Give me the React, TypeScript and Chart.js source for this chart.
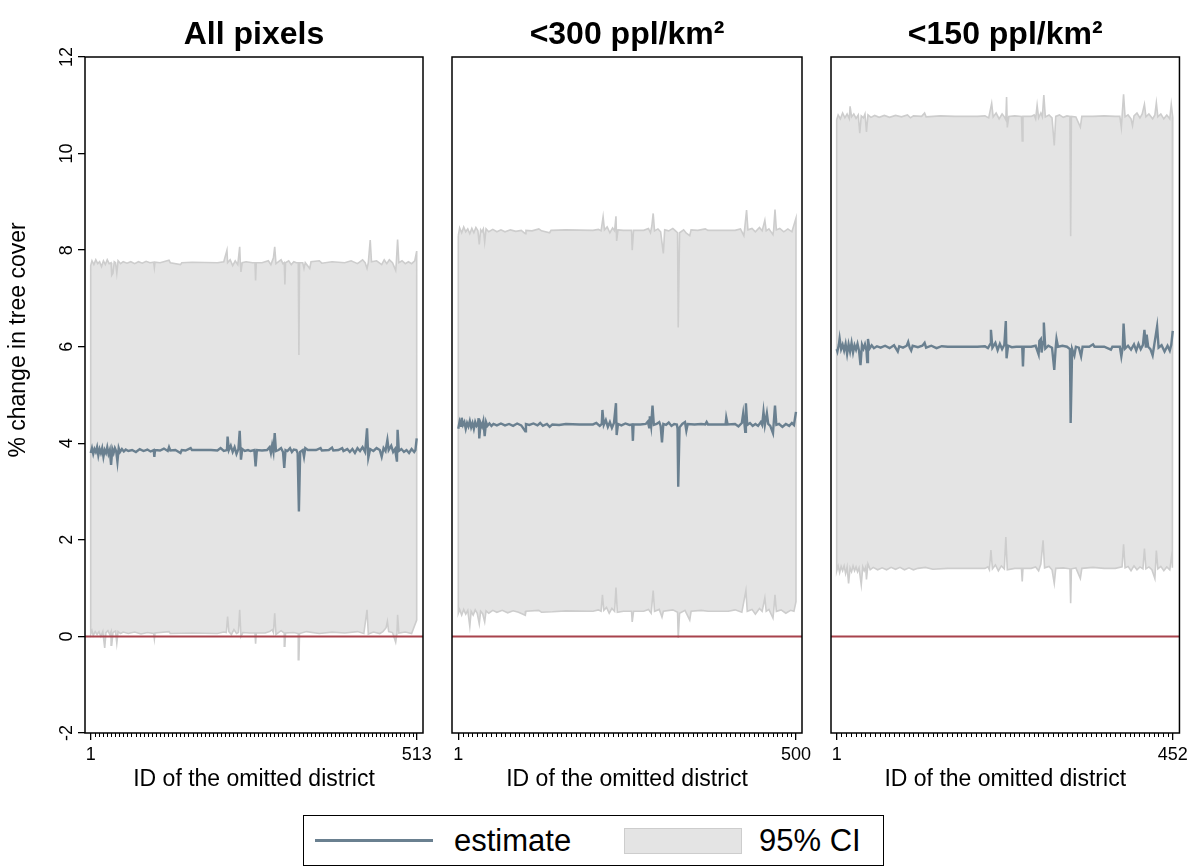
import React, { useEffect, useRef } from 'react';
import { Chart, registerables } from 'chart.js';

Chart.register(...registerables);

// ---------- data ----------
const PANEL_TITLES = ['All pixels', '<300 ppl/km²', '<150 ppl/km²'];
const DISTRICT_COUNTS = [513, 500, 452];
const Y_TICKS = [-2, 0, 2, 4, 6, 8, 10, 12];
const Y_MIN = -2;
const Y_MAX = 12;
const ZERO_LINE = 0;
const X_AXIS_TITLE = 'ID of the omitted district';
const Y_AXIS_TITLE = '% change in tree cover';
const LEGEND_LABELS = ['estimate', '95% CI'];

// [district id, value]
const estimateAll = [[1,3.80],[3,3.90],[5,3.78],[7,3.88],[9,3.82],[11,3.92],[13,3.75],[15,3.88],[17,3.80],[19,3.90],[21,3.72],[23,3.86],[25,3.80],[27,3.92],[29,3.78],[31,3.86],[33,3.55],[35,3.88],[37,3.80],[39,3.90],[41,3.84],[43,3.62],[45,3.90],[47,3.82],[50,3.88],[53,3.83],[56,3.87],[60,3.84],[66,3.86],[72,3.82],[78,3.88],[84,3.84],[90,3.87],[95,3.83],[100,3.86],[101,3.72],[102,3.86],[110,3.85],[116,3.89],[122,3.84],[124,3.92],[126,3.85],[134,3.86],[142,3.80],[144,3.86],[150,3.85],[158,3.90],[160,3.86],[170,3.86],[190,3.86],[200,3.85],[205,3.90],[210,3.84],[215,3.86],[216,4.14],[218,3.86],[221,3.95],[224,3.82],[227,3.92],[230,3.78],[233,3.88],[235,4.26],[237,3.66],[239,3.88],[243,3.84],[248,3.86],[252,3.84],[258,3.86],[260,3.52],[262,3.86],[270,3.85],[278,3.86],[282,3.92],[284,3.80],[286,3.96],[288,3.82],[290,4.21],[292,3.84],[296,3.86],[300,3.90],[303,3.82],[305,3.49],[307,3.86],[310,3.84],[314,3.90],[317,3.82],[320,3.87],[324,3.86],[326,3.80],[328,2.59],[330,3.82],[334,3.86],[336,3.72],[338,3.90],[342,3.86],[355,3.86],[362,3.90],[364,3.85],[375,3.86],[380,3.91],[382,3.85],[390,3.86],[396,3.90],[398,3.84],[404,3.88],[408,3.82],[412,3.88],[416,3.80],[420,3.90],[424,3.84],[428,3.92],[432,3.82],[435,4.31],[437,3.70],[440,3.88],[445,3.84],[450,3.90],[455,3.86],[458,3.72],[461,3.90],[464,3.84],[467,4.07],[469,3.86],[473,3.95],[476,3.82],[479,3.88],[482,3.62],[483,4.28],[485,3.84],[489,3.88],[493,3.82],[497,3.86],[501,3.80],[505,3.88],[509,3.82],[511,3.86],[513,4.10]];
const upperAll = [[1,7.68],[3,7.78],[6,7.70],[9,7.80],[12,7.72],[15,7.76],[18,7.66],[21,7.78],[24,7.70],[27,7.80],[30,7.72],[33,7.74],[34,7.48],[36,7.52],[38,7.76],[40,7.74],[42,7.52],[44,7.78],[48,7.72],[52,7.76],[58,7.73],[64,7.76],[70,7.72],[76,7.76],[82,7.73],[88,7.77],[94,7.74],[100,7.75],[101,7.64],[102,7.75],[110,7.74],[124,7.79],[126,7.74],[142,7.70],[144,7.74],[160,7.75],[200,7.74],[210,7.76],[215,8.00],[216,7.74],[220,7.80],[224,7.68],[228,7.78],[232,7.70],[235,8.07],[236,7.74],[237,7.55],[239,7.74],[245,7.76],[255,7.74],[259,7.74],[260,7.37],[261,7.74],[270,7.74],[280,7.78],[284,7.70],[288,7.84],[290,8.07],[292,7.72],[296,7.76],[300,7.80],[303,7.72],[305,7.74],[306,7.29],[307,7.74],[312,7.78],[316,7.70],[320,7.76],[324,7.74],[327,7.74],[328,5.83],[329,7.74],[334,7.74],[336,7.62],[338,7.74],[345,7.62],[347,7.76],[360,7.78],[364,7.73],[380,7.76],[400,7.74],[410,7.78],[420,7.72],[428,7.80],[432,7.74],[435,7.62],[437,7.74],[440,8.21],[442,7.76],[450,7.78],[458,7.70],[462,7.80],[466,7.72],[470,7.80],[475,7.74],[480,7.58],[481,7.74],[483,8.22],[485,7.74],[490,7.78],[495,7.72],[500,7.76],[505,7.72],[510,7.78],[513,7.98]];
const lowerAll = [[1,0.05],[3,0.12],[5,0.02],[8,0.10],[11,0.04],[14,0.10],[17,0.00],[20,0.10],[23,-0.24],[25,0.08],[28,0.12],[31,0.04],[33,0.10],[34,-0.18],[36,0.08],[40,0.11],[42,-0.14],[44,0.10],[48,0.06],[52,0.09],[60,0.06],[70,0.09],[80,0.05],[90,0.08],[100,0.06],[101,-0.05],[102,0.07],[124,0.10],[126,0.06],[160,0.07],[200,0.06],[210,0.09],[214,0.08],[216,0.41],[218,0.10],[222,0.04],[226,0.14],[230,0.06],[233,0.08],[235,0.55],[237,0.00],[240,0.08],[250,0.07],[259,0.07],[260,-0.15],[261,0.07],[275,0.07],[282,0.10],[286,0.14],[288,0.08],[290,0.48],[292,0.04],[300,0.12],[305,0.07],[306,-0.20],[307,0.07],[320,0.08],[327,0.06],[328,-0.48],[329,0.06],[340,0.10],[360,0.06],[380,0.09],[400,0.07],[420,0.10],[430,0.06],[435,0.55],[437,0.05],[445,0.09],[455,0.06],[460,0.10],[465,0.18],[467,0.31],[469,0.10],[475,0.08],[480,-0.12],[482,0.06],[483,0.45],[485,0.07],[495,0.09],[505,0.06],[513,0.34]];

const estimate300 = [[1,4.30],[3,4.45],[5,4.36],[6,4.53],[8,4.38],[10,4.44],[12,4.30],[14,4.42],[16,4.35],[18,4.46],[20,4.33],[22,4.42],[24,4.30],[26,4.44],[28,4.36],[30,4.40],[31,4.52],[32,4.10],[34,4.42],[36,4.35],[38,4.46],[40,4.15],[42,4.44],[44,4.36],[47,4.41],[50,4.36],[53,4.40],[58,4.37],[64,4.41],[70,4.37],[76,4.40],[82,4.36],[88,4.41],[94,4.37],[100,4.25],[101,4.40],[106,4.38],[112,4.41],[118,4.37],[122,4.42],[126,4.36],[132,4.40],[136,4.34],[140,4.39],[150,4.38],[160,4.40],[180,4.39],[200,4.39],[205,4.42],[210,4.36],[213,4.40],[214,4.69],[216,4.38],[219,4.48],[222,4.34],[225,4.44],[228,4.32],[231,4.42],[234,4.83],[235,4.17],[237,4.40],[242,4.37],[248,4.41],[254,4.38],[258,4.39],[259,4.05],[260,4.39],[270,4.39],[278,4.40],[281,4.45],[283,4.33],[284,4.56],[286,4.36],[288,4.78],[290,4.38],[294,4.40],[298,4.44],[300,4.36],[302,4.02],[304,4.40],[308,4.38],[312,4.43],[316,4.36],[320,4.40],[324,4.39],[325,4.30],[326,3.10],[328,4.33],[332,4.40],[336,4.44],[338,4.26],[340,4.40],[350,4.39],[360,4.40],[366,4.39],[368,4.44],[370,4.39],[385,4.39],[396,4.39],[397,4.53],[399,4.39],[410,4.40],[415,4.35],[420,4.42],[422,4.62],[424,4.38],[425,4.24],[426,4.83],[428,4.38],[432,4.42],[436,4.36],[440,4.40],[444,4.36],[448,4.44],[450,4.38],[452,4.65],[454,4.38],[457,4.62],[459,4.40],[462,4.36],[466,4.21],[467,4.40],[469,4.78],[471,4.38],[475,4.40],[480,4.34],[485,4.40],[490,4.36],[494,4.42],[497,4.38],[500,4.65]];
const upper300 = [[1,8.30],[3,8.46],[6,8.36],[9,8.48],[12,8.38],[15,8.44],[18,8.34],[21,8.45],[24,8.36],[27,8.47],[30,8.40],[32,8.12],[34,8.42],[36,8.38],[38,8.44],[40,8.17],[42,8.44],[46,8.38],[52,8.43],[58,8.38],[64,8.42],[70,8.38],[78,8.42],[86,8.39],[94,8.41],[100,8.34],[101,8.41],[110,8.40],[120,8.44],[124,8.40],[136,8.36],[138,8.41],[160,8.42],[200,8.41],[208,8.43],[212,8.40],[215,8.69],[217,8.42],[221,8.48],[225,8.36],[229,8.46],[232,8.40],[234,8.70],[235,8.19],[237,8.42],[245,8.41],[257,8.41],[258,8.00],[260,8.41],[275,8.41],[282,8.45],[285,8.36],[287,8.50],[289,8.76],[291,8.40],[296,8.44],[300,8.38],[304,7.93],[306,8.42],[312,8.40],[318,8.45],[322,8.40],[325,8.36],[326,6.40],[328,8.36],[334,8.42],[338,8.35],[343,8.30],[345,8.42],[355,8.41],[366,8.44],[370,8.41],[400,8.41],[410,8.41],[418,8.44],[423,8.30],[424,8.42],[427,8.83],[429,8.42],[435,8.45],[440,8.38],[446,8.47],[450,8.40],[454,8.62],[456,8.40],[460,8.44],[466,8.32],[467,8.42],[469,8.84],[471,8.42],[476,8.45],[482,8.38],[488,8.44],[494,8.38],[500,8.66]];
const lower300 = [[1,0.48],[3,0.56],[6,0.44],[9,0.56],[12,0.46],[15,0.54],[18,0.21],[20,0.52],[23,0.44],[26,0.55],[29,0.48],[32,0.26],[34,0.52],[37,0.47],[40,0.30],[42,0.53],[46,0.48],[52,0.54],[58,0.50],[66,0.54],[74,0.49],[82,0.53],[90,0.50],[100,0.44],[101,0.52],[120,0.54],[124,0.50],[140,0.51],[160,0.53],[200,0.52],[208,0.55],[212,0.52],[214,0.86],[216,0.54],[220,0.60],[224,0.48],[228,0.58],[232,0.52],[234,1.01],[236,0.50],[245,0.52],[257,0.52],[258,0.30],[260,0.52],[275,0.52],[282,0.56],[286,0.48],[289,0.95],[291,0.52],[298,0.56],[302,0.40],[304,0.52],[318,0.55],[325,0.50],[326,-0.03],[328,0.48],[336,0.54],[343,0.34],[345,0.52],[360,0.54],[370,0.52],[400,0.52],[410,0.55],[420,0.50],[426,0.95],[428,0.52],[435,0.56],[440,0.46],[446,0.58],[450,0.52],[454,0.80],[456,0.52],[460,0.56],[466,0.38],[467,0.52],[469,0.86],[471,0.52],[478,0.55],[485,0.48],[492,0.54],[497,0.52],[500,0.72]];

const estimate150 = [[1,5.95],[2,5.90],[4,6.05],[5,6.17],[7,5.95],[9,6.04],[11,5.92],[13,6.06],[15,5.85],[17,6.05],[19,5.90],[21,6.08],[23,5.88],[25,6.03],[27,5.94],[29,6.06],[31,5.92],[33,5.62],[35,6.04],[37,5.96],[39,6.05],[41,5.92],[42,5.68],[43,6.16],[45,5.96],[48,6.03],[51,5.97],[55,6.01],[60,5.98],[66,6.02],[72,5.97],[78,6.03],[83,5.90],[85,6.01],[90,5.98],[95,6.02],[97,6.10],[99,5.98],[101,5.92],[103,6.02],[110,5.99],[116,6.02],[119,6.08],[121,5.98],[128,6.02],[135,5.97],[142,6.01],[150,6.00],[170,6.00],[190,6.00],[200,6.01],[204,5.97],[207,6.05],[208,6.35],[210,5.98],[214,6.08],[217,5.93],[220,6.06],[223,5.95],[226,6.04],[228,6.53],[229,5.76],[231,6.02],[236,5.99],[242,6.00],[250,6.00],[251,5.59],[252,6.00],[262,6.00],[268,6.02],[270,5.93],[272,5.84],[273,6.12],[275,6.16],[276,5.88],[278,6.10],[279,6.50],[281,5.96],[285,6.02],[290,5.98],[293,5.52],[295,6.00],[296,6.16],[298,6.00],[304,6.02],[310,6.00],[314,5.95],[315,4.42],[317,5.95],[320,5.82],[322,6.00],[326,5.98],[329,5.80],[331,6.00],[340,6.00],[345,6.05],[347,6.00],[360,6.00],[369,5.94],[371,6.00],[381,6.00],[383,5.80],[385,6.00],[386,6.48],[388,5.96],[392,6.02],[396,5.94],[400,6.05],[403,5.92],[406,6.06],[409,5.95],[412,6.04],[414,6.35],[416,5.98],[417,6.25],[419,6.00],[422,5.95],[425,5.82],[427,6.02],[431,6.42],[433,5.98],[437,6.03],[441,5.90],[445,6.02],[448,5.92],[450,6.04],[452,6.33]];
const upper150 = [[1,10.70],[3,10.80],[6,10.72],[9,10.84],[12,10.74],[15,10.82],[18,10.72],[19,10.98],[21,10.76],[24,10.82],[27,10.73],[30,10.80],[32,10.42],[34,10.78],[37,10.74],[39,10.82],[41,10.45],[43,10.80],[47,10.75],[52,10.79],[58,10.75],[65,10.79],[72,10.75],[80,10.79],[88,10.76],[96,10.80],[100,10.74],[104,10.78],[115,10.77],[119,10.84],[121,10.76],[140,10.78],[160,10.77],[190,10.77],[200,10.78],[205,10.74],[209,11.04],[211,10.76],[215,10.84],[219,10.72],[223,10.82],[226,10.76],[228,10.70],[229,11.17],[230,10.54],[232,10.77],[240,10.78],[249,10.77],[250,10.26],[251,10.77],[262,10.77],[266,10.80],[268,10.72],[270,11.00],[272,10.74],[275,10.84],[277,10.76],[279,11.21],[281,10.76],[286,10.80],[290,10.74],[293,10.17],[295,10.77],[300,10.80],[305,10.75],[310,10.78],[314,10.77],[315,8.29],[316,10.77],[322,10.76],[328,10.55],[330,10.77],[345,10.77],[360,10.78],[375,10.77],[381,10.77],[383,10.54],[384,10.77],[386,11.23],[388,10.76],[392,10.80],[396,10.72],[398,10.58],[400,10.78],[404,10.84],[408,10.74],[411,10.82],[414,11.02],[416,10.76],[420,10.82],[425,10.72],[428,10.80],[430,11.05],[432,10.76],[436,10.82],[440,10.72],[444,10.80],[448,10.72],[450,11.02],[452,10.75]];
const lower150 = [[1,1.35],[3,1.46],[5,1.32],[7,1.45],[9,1.36],[11,1.46],[13,1.30],[15,1.44],[17,1.10],[19,1.42],[21,1.34],[23,1.46],[25,1.36],[27,1.44],[29,1.34],[31,1.42],[34,1.07],[36,1.44],[38,1.36],[40,1.44],[41,1.18],[43,1.50],[46,1.38],[50,1.43],[56,1.38],[62,1.42],[68,1.38],[74,1.43],[80,1.39],[86,1.43],[92,1.38],[98,1.42],[104,1.38],[110,1.41],[120,1.43],[130,1.39],[150,1.41],[180,1.41],[200,1.41],[204,1.44],[206,1.38],[208,1.79],[210,1.40],[214,1.48],[218,1.36],[222,1.46],[226,1.40],[228,2.06],[230,1.38],[240,1.41],[249,1.41],[250,1.14],[251,1.41],[262,1.41],[268,1.44],[272,1.36],[275,1.50],[278,1.99],[280,1.42],[286,1.45],[290,1.38],[293,1.10],[295,1.41],[305,1.42],[314,1.40],[315,0.69],[316,1.40],[322,1.42],[328,1.20],[330,1.41],[345,1.43],[360,1.41],[375,1.41],[384,1.44],[386,1.91],[388,1.42],[392,1.45],[396,1.36],[400,1.46],[404,1.38],[408,1.44],[412,1.40],[414,1.82],[416,1.40],[420,1.44],[424,1.38],[428,1.20],[430,1.78],[432,1.40],[436,1.45],[440,1.36],[444,1.44],[448,1.38],[451,1.78],[452,1.42]];

const ESTIMATES = [estimateAll, estimate300, estimate150];
const UPPERS = [upperAll, upper300, upper150];
const LOWERS = [lowerAll, lower300, lower150];

// ---------- layout / style ----------
const W = 1192;
const H = 867;
const FONT = "'Liberation Sans', Arial, Helvetica, sans-serif";
const EST_COLOR = '#6a8090';
const CI_FILL = '#e4e4e4';
const CI_LINE = '#cdcdcd';
const ZERO_COLOR = '#a8434c';
const PLOT_TOP = 57;
const PLOT_BOTTOM = 733;
const X_AXIS_H = 60;
const Y_TITLE_POS = { x: 19, y: 340 };
const PANEL_LAYOUT = [
  { left: 85, right: 423, xMin: -7.95, xMax: 522.9, minor: 80 },
  { left: 452, right: 802, xMin: -8.3, xMax: 508.9, minor: 72 },
  { left: 831, right: 1180, xMin: -6.6, xMax: 461, minor: 70 },
];

function makeChart(canvas: HTMLCanvasElement, i: number) {
  const N = DISTRICT_COUNTS[i];
  const L = PANEL_LAYOUT[i];
  const toXY = (a: number[][]) => a.map(([x, y]) => ({ x, y }));
  const up = toXY(UPPERS[i]);
  const lo = toXY(LOWERS[i]).reverse();
  const polygon = [...up, ...lo, { ...up[0] }];

  const decor = {
    id: 'decor' + i,
    beforeDatasetDraw(chart: any, args: any) {
      if (args.index !== 0) return;
      const { ctx, chartArea, scales } = chart;
      const y = scales.y.getPixelForValue(ZERO_LINE);
      ctx.save();
      ctx.strokeStyle = ZERO_COLOR;
      ctx.lineWidth = 2;
      ctx.beginPath();
      ctx.moveTo(chartArea.left, y);
      ctx.lineTo(chartArea.right, y);
      ctx.stroke();
      ctx.restore();
    },
    afterDraw(chart: any) {
      const { ctx, chartArea, scales } = chart;
      ctx.save();
      // frame
      ctx.strokeStyle = '#000';
      ctx.lineWidth = 1.5;
      ctx.strokeRect(chartArea.left, chartArea.top, chartArea.right - chartArea.left, chartArea.bottom - chartArea.top);
      // minor x ticks
      ctx.lineWidth = 1;
      ctx.beginPath();
      for (let k = 1; k < L.minor; k++) {
        const v = 1 + (k * (N - 1)) / L.minor;
        const px = Math.round(scales.x.getPixelForValue(v)) + 0.5;
        ctx.moveTo(px, chartArea.bottom);
        ctx.lineTo(px, chartArea.bottom + 4);
      }
      ctx.stroke();
      // panel title
      ctx.fillStyle = '#000';
      ctx.font = `bold 32px ${FONT}`;
      ctx.textAlign = 'center';
      ctx.textBaseline = 'alphabetic';
      ctx.fillText(PANEL_TITLES[i], (chartArea.left + chartArea.right) / 2, 44);
      if (i === 0) {
        // rotated y tick labels
        ctx.font = `18px ${FONT}`;
        ctx.textBaseline = 'middle';
        for (const v of Y_TICKS) {
          const y = scales.y.getPixelForValue(v);
          ctx.save();
          ctx.translate(67, y);
          ctx.rotate(-Math.PI / 2);
          ctx.fillText(String(v), 0, 0);
          ctx.restore();
        }
        // y axis title
        ctx.font = `23px ${FONT}`;
        ctx.save();
        ctx.translate(Y_TITLE_POS.x, Y_TITLE_POS.y);
        ctx.rotate(-Math.PI / 2);
        ctx.fillText(Y_AXIS_TITLE, 0, 0);
        ctx.restore();
      }
      ctx.restore();
    },
  };

  return new Chart(canvas, {
    type: 'line',
    data: {
      datasets: [
        {
          label: LEGEND_LABELS[0],
          data: toXY(ESTIMATES[i]),
          borderColor: EST_COLOR,
          borderWidth: 2.4,
          pointRadius: 0,
          fill: false,
          tension: 0,
          order: 0,
        },
        {
          label: LEGEND_LABELS[1],
          data: polygon,
          borderColor: CI_LINE,
          backgroundColor: CI_FILL,
          borderWidth: 1.6,
          pointRadius: 0,
          fill: 'shape',
          tension: 0,
          order: 1,
        },
      ],
    },
    options: {
      responsive: false,
      animation: false,
      devicePixelRatio: 1,
      events: [],
      layout: {
        padding: {
          left: i === 0 ? 0 : L.left,
          right: W - L.right,
          top: PLOT_TOP,
          bottom: H - PLOT_BOTTOM - X_AXIS_H,
        },
      },
      plugins: {
        legend: { display: false },
        tooltip: { enabled: false },
        title: { display: false },
      },
      scales: {
        x: {
          type: 'linear',
          min: L.xMin,
          max: L.xMax,
          afterBuildTicks: (s: any) => {
            s.ticks = [{ value: 1 }, { value: N }];
          },
          afterFit: (s: any) => {
            s.height = X_AXIS_H;
          },
          grid: { display: true, drawOnChartArea: false, drawTicks: true, tickLength: 7, color: '#000', lineWidth: 1.3, tickWidth: 1.3 },
          border: { display: false },
          ticks: {
            autoSkip: false,
            maxRotation: 0,
            minRotation: 0,
            padding: 4,
            color: '#000',
            font: { family: FONT, size: 18 },
            callback: (v: any) => String(v),
          },
          title: {
            display: true,
            text: X_AXIS_TITLE,
            color: '#000',
            font: { family: FONT, size: 23 },
            padding: { top: 0, bottom: 0 },
          },
        },
        y: {
          type: 'linear',
          min: Y_MIN,
          max: Y_MAX,
          display: i === 0,
          afterBuildTicks: (s: any) => {
            s.ticks = Y_TICKS.map((v) => ({ value: v }));
          },
          afterFit: (s: any) => {
            s.width = i === 0 ? L.left : 0;
          },
          grid: { display: true, drawOnChartArea: false, drawTicks: true, tickLength: 7, color: '#000', lineWidth: 1.3, tickWidth: 1.3 },
          border: { display: false },
          ticks: { display: false },
          title: { display: false },
        },
      },
    },
    plugins: [decor],
  } as any);
}

export default function App() {
  const refs = [useRef<HTMLCanvasElement>(null), useRef<HTMLCanvasElement>(null), useRef<HTMLCanvasElement>(null)];

  useEffect(() => {
    const charts = refs.map((r, i) => makeChart(r.current as HTMLCanvasElement, i));
    return () => charts.forEach((c) => c.destroy());
  }, []);

  const legendText: React.CSSProperties = {
    position: 'absolute',
    top: 0,
    height: '100%',
    display: 'flex',
    alignItems: 'center',
    fontFamily: FONT,
    fontSize: 31,
    color: '#000',
    whiteSpace: 'nowrap',
  };

  return (
    <div style={{ position: 'absolute', left: 0, top: 0, width: W, height: H, background: '#fff', overflow: 'hidden' }}>
      {refs.map((r, i) => (
        <canvas key={i} ref={r} width={W} height={H} style={{ position: 'absolute', left: 0, top: 0, width: W, height: H }} />
      ))}
      <div
        style={{
          position: 'absolute',
          left: 303,
          top: 815,
          width: 581,
          height: 51,
          border: '1.5px solid #000',
          boxSizing: 'border-box',
          background: '#fff',
        }}
      >
        <div style={{ position: 'absolute', left: 11, top: 23, width: 118, height: 3, background: EST_COLOR }} />
        <div style={{ ...legendText, left: 150 }}>{LEGEND_LABELS[0]}</div>
        <div
          style={{
            position: 'absolute',
            left: 320,
            top: 12,
            width: 118,
            height: 26,
            background: CI_FILL,
            border: `1.5px solid ${CI_LINE}`,
            boxSizing: 'border-box',
          }}
        />
        <div style={{ ...legendText, left: 455 }}>{LEGEND_LABELS[1]}</div>
      </div>
    </div>
  );
}
